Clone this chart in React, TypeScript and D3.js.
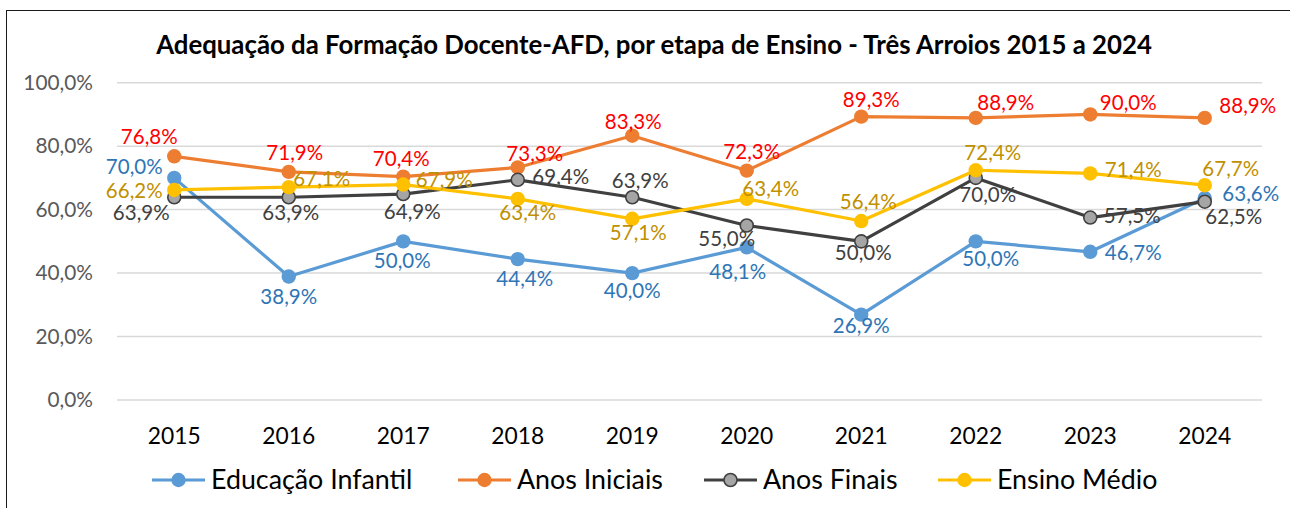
import React from 'react';
import * as d3 from 'd3';

const title = 'Adequação da Formação Docente-AFD, por etapa de Ensino - Três Arroios 2015 a 2024';
const years = ['2015', '2016', '2017', '2018', '2019', '2020', '2021', '2022', '2023', '2024'];
const yTicks = [0, 0.2, 0.4, 0.6, 0.8, 1.0];

const educacaoInfantil = [70.0, 38.9, 50.0, 44.4, 40.0, 48.1, 26.9, 50.0, 46.7, 63.6];
const anosIniciais = [76.8, 71.9, 70.4, 73.3, 83.3, 72.3, 89.3, 88.9, 90.0, 88.9];
const anosFinais = [63.9, 63.9, 64.9, 69.4, 63.9, 55.0, 50.0, 70.0, 57.5, 62.5];
const ensinoMedio = [66.2, 67.1, 67.9, 63.4, 57.1, 63.4, 56.4, 72.4, 71.4, 67.7];

// label placement offsets (layout only), relative to each point: [dx, dy] of label centre
const eiLabelOffset = [[-40, -11], [0, 20], [-1, 19], [7, 20], [0, 18], [-9, 24], [0, 11], [15, 17], [43, 1], [46, -4]];
const aiLabelOffset = [[-25, -19], [6, -19], [-2, -18], [17, -14], [1, -14], [5, -19], [10, -17], [30, -15], [38, -12], [43, -12]];
const afLabelOffset = [[-33, 16], [2, 16], [9, 18], [43, -3], [8, -16], [-20, 13], [2, 11], [12, 17], [42, -2], [29, 15]];
const emLabelOffset = [[-40, 1], [33, -8], [41, -5], [10, 14], [6, 14], [24, -10], [7, -19], [17, -17], [43, -4], [26, -16]];

const series = [
  { name: 'Educação Infantil', values: educacaoInfantil, offsets: eiLabelOffset, line: '#5B9BD5', fill: '#5B9BD5', stroke: '#5B9BD5', label: '#2E75B6' },
  { name: 'Anos Iniciais', values: anosIniciais, offsets: aiLabelOffset, line: '#ED7D31', fill: '#ED7D31', stroke: '#ED7D31', label: '#FF0000' },
  { name: 'Anos Finais', values: anosFinais, offsets: afLabelOffset, line: '#404040', fill: '#A5A5A5', stroke: '#404040', label: '#404040' },
  { name: 'Ensino Médio', values: ensinoMedio, offsets: emLabelOffset, line: '#FFC000', fill: '#FFC000', stroke: '#FFC000', label: '#BF9000' },
];

const legendX = [152, 458, 704, 938];

const FONT = 'Lato, "Open Sans", sans-serif';

const fmt = (v: number) => v.toFixed(1).replace('.', ',') + '%';

export default function App() {
  const W = 1290, H = 508;
  const x = d3.scaleBand<string>().domain(years).range([117, 1262]);
  const cx = (yr: string) => (x(yr) as number) + x.bandwidth() / 2;
  const y = d3.scaleLinear().domain([0, 1]).range([400, 82.7]);
  const line = d3.line<number>().x((_, i) => cx(years[i])).y(v => y(v / 100));

  return (
    <svg width={W} height={H} style={{ position: 'absolute', left: 0, top: 0, background: '#fff' }} fontFamily={FONT}>
      <rect x={0} y={0} width={W} height={H} fill="#fff" />
      <rect x={6.5} y={10.5} width={W} height={H} fill="none" stroke="#1a1a1a" strokeWidth={1} />
      <text x={654} y={54} textAnchor="middle" fontSize={25.8} fontWeight="bold" fill="#000">{title}</text>
      {yTicks.map(t => (
        <g key={t}>
          <line x1={117} x2={1262} y1={y(t)} y2={y(t)} stroke="#D9D9D9" strokeWidth={1.5} />
          <text x={93} y={y(t)} dy="0.35em" textAnchor="end" fontSize={20.8} fill="#595959">{fmt(t * 100)}</text>
        </g>
      ))}
      {years.map(yr => (
        <text key={yr} x={cx(yr)} y={444} textAnchor="middle" fontSize={22.8} fill="#000">{yr}</text>
      ))}
      {series.map(s => (
        <g key={s.name}>
          <path d={line(s.values) as string} fill="none" stroke={s.line} strokeWidth={3.2} strokeLinejoin="round" />
          {s.values.map((v, i) => (
            <circle key={i} cx={cx(years[i])} cy={y(v / 100)} r={s.name === 'Anos Finais' ? 6.5 : 7.2} fill={s.fill} stroke={s.stroke} strokeWidth={s.name === 'Anos Finais' ? 1.6 : 0} />
          ))}
        </g>
      ))}
      {series.map(s => (
        <g key={s.name + '-labels'}>
          {s.values.map((v, i) => (
            <text key={i} x={cx(years[i]) + s.offsets[i][0]} y={y(v / 100) + s.offsets[i][1]} dy="0.35em" textAnchor="middle" fontSize={20.5} fill={s.label}>{fmt(v)}</text>
          ))}
        </g>
      ))}
      {series.map((s, k) => (
        <g key={s.name + '-legend'} transform={`translate(${legendX[k]},480)`}>
          <line x1={0} x2={53} y1={0} y2={0} stroke={s.line} strokeWidth={3.2} />
          <circle cx={26.5} cy={0} r={s.name === 'Anos Finais' ? 6.5 : 7.2} fill={s.fill} stroke={s.stroke} strokeWidth={s.name === 'Anos Finais' ? 1.6 : 0} />
          <text x={59} y={0} dy="0.35em" fontSize={26.8} fill="#000">{s.name}</text>
        </g>
      ))}
    </svg>
  );
}
